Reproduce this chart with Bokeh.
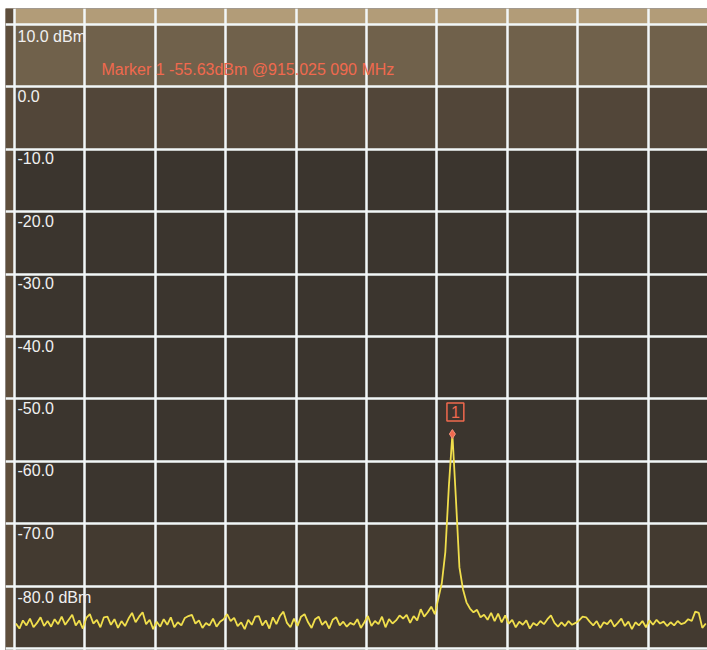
from bokeh.plotting import figure
from bokeh.models import FixedTicker, BoxAnnotation
from bokeh.embed import file_html
from bokeh.resources import INLINE
from bokeh.core.properties import value

# ---------------- data ----------------
# reference levels (dBm) of the horizontal graticule lines and their labels
ref_levels = [10, 0, -10, -20, -30, -40, -50, -60, -70, -80]
ref_labels = ["10.0 dBm", "0.0", "-10.0", "-20.0", "-30.0", "-40.0",
              "-50.0", "-60.0", "-70.0", "-80.0 dBm"]
y_bottom = -90
y_top = 10
x_divisions = list(range(0, 11))          # 10 horizontal divisions

# sweep trace: one reading per sweep bin (bin width 0.05 division)
trace_start_div = 0.02
trace_step_div = 0.05
trace_dbm = [
    -86.0, -86.8, -85.5, -86.3, -85.2, -86.6, -85.9, -85.0, -86.4, -85.6,
    -86.5, -85.3, -86.1, -84.9, -86.2, -85.4, -84.6, -86.3, -85.5, -86.8,
    -85.1, -84.5, -86.0, -85.4, -86.6, -85.0, -84.9, -86.2, -85.3, -86.7,
    -85.6, -86.4, -85.2, -84.3, -85.8, -84.9, -84.2, -86.1, -85.4, -86.9,
    -85.7, -86.5, -85.3, -86.2, -85.0, -86.6, -85.8, -86.3, -85.1, -84.8,
    -84.6, -86.0, -85.5, -86.7, -85.9, -86.3, -85.2, -86.5, -85.7, -85.3,
    -84.5, -85.6, -85.1, -86.4, -85.8, -86.9, -85.4, -86.2, -84.9, -84.8,
    -86.3, -85.5, -86.8, -85.0, -86.1, -84.8, -84.1, -85.9, -86.6, -85.2,
    -86.4, -84.9, -84.5, -85.8, -86.7, -85.3, -84.9, -86.2, -85.6, -86.8,
    -85.4, -85.0, -86.3, -85.7, -86.5, -85.9, -86.2, -85.3, -86.7, -85.8,
    -84.8, -86.4, -85.6, -86.1, -84.9, -86.6, -85.3, -86.0, -85.5, -84.7,
    -85.2, -84.6, -85.9, -84.8, -85.5, -83.7, -84.9, -84.2, -83.3, -84.5,
    -82.0, -79.5, -74.5, -64.0, -55.63, -66.0, -77.0, -80.5, -82.6, -83.6,
    -84.2, -83.8, -85.0, -84.6, -85.4, -84.3, -85.6, -84.4, -85.8, -84.7,
    -86.0, -85.4, -86.6, -85.7, -86.2, -85.5, -86.8, -85.9, -86.3, -85.6,
    -86.1, -85.3, -84.7, -85.9, -86.5, -85.8, -86.4, -85.6, -86.2, -85.9,
    -85.5, -84.9, -85.0, -85.7, -86.3, -85.6, -86.7, -85.8, -86.1, -85.4,
    -86.5, -85.9, -85.2, -86.4, -85.7, -86.9, -85.8, -86.3, -85.6, -86.6,
    -85.5, -86.2, -85.4, -86.0, -85.7, -86.4, -85.8, -86.3, -85.6, -86.1,
    -85.9, -85.3, -85.6, -84.1, -84.3, -86.7, -86.0,
]
trace_x = [trace_start_div + trace_step_div * i for i in range(len(trace_dbm))]

# marker 1
marker_div = 6.22
marker_dbm = -55.63
marker_freq = "915.025 090 MHz"
marker_text = "Marker 1 {:.2f}dBm @{}".format(marker_dbm, marker_freq)

# ---------------- style ----------------
GRID = "#f2f7f8"
LABEL = "#f0f0f0"
RED = "#f0694e"
TRACE = "#f0de4c"
FONT = value("Liberation Sans")

PX_DIV = 70.4        # pixels per horizontal division
PX_DB = 6.24         # pixels per dB
W, H = 707, 650
LEFT, TOP = 5, 8
x0 = -(14 - LEFT) / PX_DIV
x1 = x0 + (W - LEFT) / PX_DIV
yt = y_top + (24 - TOP) / PX_DB
yb = yt - (H - TOP) / PX_DB

p = figure(width=W, height=H, x_range=(x0, x1), y_range=(yb, yt),
           output_backend="svg", toolbar_location=None, title=None,
           min_border_left=LEFT, min_border_right=0, min_border_top=TOP,
           min_border_bottom=0)
p.axis.visible = False
p.background_fill_color = "#3b352e"
p.border_fill_color = "white"
p.outline_line_color = None

# screen shading (bezel strip and glare), beneath the graticule
shades = [
    dict(bottom=y_top, fill_color="#b29c78", fill_alpha=1.0),
    dict(right=0, fill_color="#5e4e3c", fill_alpha=1.0),
    dict(bottom=0, top=y_top, left=0, fill_color="#7a6850", fill_alpha=0.85),
    dict(bottom=-10, top=0, left=0, fill_color="#5c4f3e", fill_alpha=0.7),
    dict(top=-70, left=0, fill_color="#463c31", fill_alpha=0.8),
]
for s in shades:
    p.add_layout(BoxAnnotation(line_alpha=0, level="image", **s))

p.xgrid.ticker = FixedTicker(ticks=x_divisions)
p.ygrid.ticker = FixedTicker(ticks=list(range(y_bottom, y_top + 1, 10)))
for g in (p.xgrid, p.ygrid):
    g.grid_line_color = GRID
    g.grid_line_width = 2.5
    g.grid_line_alpha = 1.0

# trace
p.line(trace_x, trace_dbm, line_color=TRACE, line_width=1.8)

# reference level labels
p.text(x=[0] * len(ref_levels), y=ref_levels, text=ref_labels,
       x_offset=3, y_offset=3, text_align="left", text_baseline="top",
       text_font=FONT, text_font_size="16px", text_color=LABEL)

# marker readout
p.text(x=[1.236], y=[2.8], text=[marker_text], text_align="left",
       text_baseline="middle", text_font=FONT, text_font_size="16px",
       text_color=RED)

# marker symbol and flag
p.scatter(x=[marker_div], y=[marker_dbm], marker="diamond", size=9,
          fill_color=RED, line_color="#f5907a", line_width=1)
p.text(x=[marker_div], y=[marker_dbm], text=["1"], x_offset=3, y_offset=-13,
       text_align="center", text_baseline="bottom", text_font=FONT,
       text_font_size="16px", text_color=RED, border_line_color=RED,
       border_line_width=1.5, padding=(4, 3))

open("out.html", "w").write(file_html(p, INLINE))
